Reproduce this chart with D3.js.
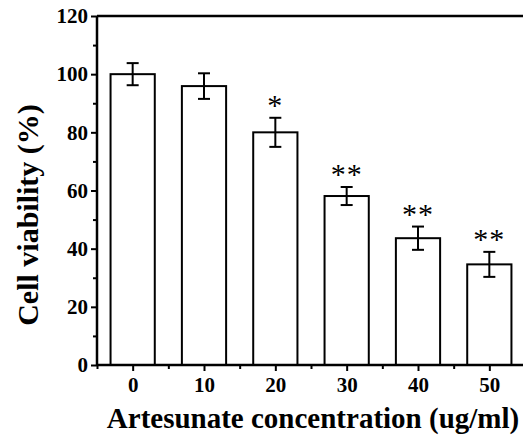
<!DOCTYPE html>
<html lang="en">
<head>
  <meta charset="utf-8">
  <title>Cell viability</title>
  <script src="https://d3js.org/d3.v7.min.js"></script>
  <style>
    body { margin: 0; background: #fff; }
    svg text { font-family: 'Liberation Serif', 'Times New Roman', serif; font-weight: bold; fill: #000; }
  </style>
</head>
<body>
<div id="chart"></div>
<script>
  // data
  var doses = [0, 10, 20, 30, 40, 50];
  var viability = [100, 95.9, 80, 58.1, 43.6, 34.6];
  var errors = [3.8, 4.4, 5, 3.1, 4, 4.3];
  var stars = ["", "", "*", "**", "**", "**"];
  var yTicks = [0, 20, 40, 60, 80, 100, 120];

  var W = 523, H = 438;
  var svg = d3.select("#chart").append("svg")
    .attr("width", W).attr("height", H);

  var x = d3.scaleLinear().domain([-5, 55]).range([97, 525]);
  var y = d3.scaleLinear().domain([0, 120]).range([365, 16]);
  var barW = x(6.2) - x(0);

  // bars
  svg.selectAll("rect.bar")
    .data(doses)
    .enter().append("rect")
    .attr("class", "bar")
    .attr("x", (d) => x(d) - barW / 2)
    .attr("y", (d, i) => y(viability[i]))
    .attr("width", barW)
    .attr("height", (d, i) => y(0) - y(viability[i]))
    .attr("fill", "#fff")
    .attr("stroke", "#000")
    .attr("stroke-width", 2);

  // error bars
  var eg = svg.selectAll("g.err")
    .data(doses)
    .enter().append("g")
    .attr("class", "err")
    .attr("stroke", "#000")
    .attr("stroke-width", 2);
  eg.append("line")
    .attr("x1", (d) => x(d)).attr("x2", (d) => x(d))
    .attr("y1", (d, i) => y(viability[i] + errors[i]))
    .attr("y2", (d, i) => y(viability[i] - errors[i]));
  eg.append("line")
    .attr("x1", (d) => x(d) - 6).attr("x2", (d) => x(d) + 6)
    .attr("y1", (d, i) => y(viability[i] + errors[i]))
    .attr("y2", (d, i) => y(viability[i] + errors[i]));
  eg.append("line")
    .attr("x1", (d) => x(d) - 6).attr("x2", (d) => x(d) + 6)
    .attr("y1", (d, i) => y(viability[i] - errors[i]))
    .attr("y2", (d, i) => y(viability[i] - errors[i]));

  // significance stars
  svg.selectAll("text.star")
    .data(doses)
    .enter().append("text")
    .attr("class", "star")
    .attr("x", (d) => x(d))
    .attr("y", (d, i) => y(viability[i] + errors[i]) - 3)
    .attr("text-anchor", "middle")
    .style("font-size", "30px")
    .style("font-weight", "normal")
    .style("letter-spacing", "1px")
    .text((d, i) => stars[i]);

  // x axis
  var xAxis = svg.append("g")
    .attr("transform", "translate(0," + y(0) + ")")
    .call(d3.axisBottom(x).tickValues(doses).tickSize(6).tickPadding(6).tickFormat(d3.format("d")));
  svg.append("g")
    .attr("transform", "translate(0," + y(0) + ")")
    .call(d3.axisBottom(x).tickValues([-5, 5, 15, 25, 35, 45]).tickSize(4).tickFormat(""))
    .select(".domain").remove();

  // y axis
  var yAxis = svg.append("g")
    .attr("transform", "translate(" + x(-5) + ",0)")
    .call(d3.axisLeft(y).tickValues(yTicks).tickSize(6).tickPadding(3));
  svg.append("g")
    .attr("transform", "translate(" + x(-5) + ",0)")
    .call(d3.axisLeft(y).tickValues([10, 30, 50, 70, 90, 110]).tickSize(4).tickFormat(""))
    .select(".domain").remove();

  svg.selectAll(".tick line").attr("stroke-width", 2);
  xAxis.select(".domain").remove();
  yAxis.select(".domain").remove();

  // frame lines: left, bottom, top
  svg.append("line").attr("x1", x(-5)).attr("x2", x(-5)).attr("y1", y(120)).attr("y2", y(0))
    .attr("stroke", "#000").attr("stroke-width", 2.5);
  svg.append("line").attr("x1", x(-5)).attr("x2", W).attr("y1", y(0)).attr("y2", y(0))
    .attr("stroke", "#000").attr("stroke-width", 2.5);
  svg.append("line").attr("x1", x(-5)).attr("x2", W).attr("y1", y(120)).attr("y2", y(120))
    .attr("stroke", "#000").attr("stroke-width", 2.5);

  svg.selectAll(".tick text").style("font-size", "21px").style("font-family", "'Liberation Serif', serif").style("font-weight", "bold");

  // axis titles
  svg.append("text")
    .attr("x", 313).attr("y", 428)
    .attr("text-anchor", "middle")
    .style("font-size", "29px")
    .text("Artesunate concentration (ug/ml)");
  svg.append("text")
    .attr("transform", "translate(38,215) rotate(-90)")
    .attr("text-anchor", "middle")
    .style("font-size", "30px")
    .text("Cell viability (%)");
</script>
</body>
</html>
